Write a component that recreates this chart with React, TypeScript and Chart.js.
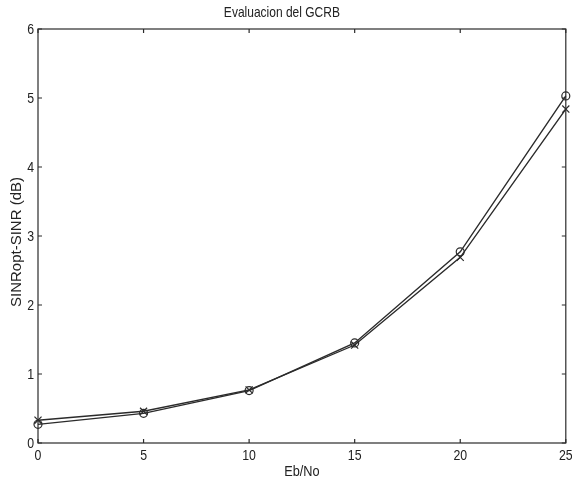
import React, { useEffect, useRef } from "react";
import { Chart, registerables } from "chart.js";

Chart.register(...registerables);

const ebNo = [0, 5, 10, 15, 20, 25];
const seriesCircle = [0.27, 0.43, 0.76, 1.45, 2.77, 5.03];
const seriesCross = [0.33, 0.46, 0.77, 1.42, 2.69, 4.84];
const xTicks = [0, 5, 10, 15, 20, 25];
const yTicks = [0, 1, 2, 3, 4, 5, 6];
const titleText = "Evaluacion del GCRB";
const xLabel = "Eb/No";
const yLabel = "SINRopt-SINR (dB)";

const INK = "#2b2b2b";
const FONT = "'Liberation Sans', Arial, Helvetica, sans-serif";

const framePlugin = {
  id: "matlabFrame",
  afterDraw(chart: any) {
    const { ctx, chartArea } = chart;
    const xs = chart.scales.x;
    const ys = chart.scales.y;
    const { left, right, top, bottom } = chartArea;
    ctx.save();
    ctx.strokeStyle = INK;
    ctx.lineWidth = 1.2;
    ctx.strokeRect(left, top, right - left, bottom - top);
    // inward ticks
    const tl = 4;
    ctx.beginPath();
    xTicks.forEach((v) => {
      const px = xs.getPixelForValue(v);
      ctx.moveTo(px, bottom);
      ctx.lineTo(px, bottom - tl);
      ctx.moveTo(px, top);
      ctx.lineTo(px, top + tl);
    });
    yTicks.forEach((v) => {
      const py = ys.getPixelForValue(v);
      ctx.moveTo(left, py);
      ctx.lineTo(left + tl, py);
      ctx.moveTo(right, py);
      ctx.lineTo(right - tl, py);
    });
    ctx.stroke();

    ctx.fillStyle = "#222";
    const drawScaled = (text: string, x: number, y: number, size: number, sx: number, align: CanvasTextAlign) => {
      ctx.save();
      ctx.translate(x, y);
      ctx.scale(sx, 1);
      ctx.font = `${size}px ${FONT}`;
      ctx.textAlign = align;
      ctx.textBaseline = "middle";
      ctx.fillText(text, 0, 0);
      ctx.restore();
    };
    xTicks.forEach((v) => {
      drawScaled(String(v), xs.getPixelForValue(v), bottom + 13, 14, 0.88, "center");
    });
    yTicks.forEach((v) => {
      drawScaled(String(v), left - 4, ys.getPixelForValue(v) + 1, 14, 0.88, "right");
    });
    // title
    drawScaled(titleText, (left + right) / 2 - 20, 13, 15, 0.8, "center");
    // x label
    drawScaled(xLabel, (left + right) / 2, bottom + 29, 15, 0.85, "center");
    // y label
    ctx.save();
    ctx.translate(17, (top + bottom) / 2 + 6);
    ctx.rotate(-Math.PI / 2);
    ctx.font = `15px ${FONT}`;
    ctx.textAlign = "center";
    ctx.textBaseline = "middle";
    ctx.fillText(yLabel, 0, 0);
    ctx.restore();
    ctx.restore();
  },
};

export default function App() {
  const ref = useRef<HTMLCanvasElement | null>(null);
  useEffect(() => {
    const prevMargin = document.body.style.margin;
    document.body.style.margin = "0";
    const chart = new Chart(ref.current as HTMLCanvasElement, {
      type: "line",
      data: {
        datasets: [
          {
            label: "o",
            data: ebNo.map((x, i) => ({ x, y: seriesCircle[i] })),
            borderColor: INK,
            backgroundColor: "rgba(0,0,0,0)",
            borderWidth: 1.4,
            pointStyle: "circle",
            pointRadius: 4,
            pointBorderWidth: 1.2,
            pointBorderColor: INK,
            pointBackgroundColor: "rgba(0,0,0,0)",
            tension: 0,
            clip: false as any,
          },
          {
            label: "x",
            data: ebNo.map((x, i) => ({ x, y: seriesCross[i] })),
            borderColor: INK,
            backgroundColor: "rgba(0,0,0,0)",
            borderWidth: 1.4,
            pointStyle: "crossRot",
            pointRadius: 5,
            pointBorderWidth: 1.2,
            pointBorderColor: INK,
            tension: 0,
            clip: false as any,
          },
        ],
      },
      options: {
        animation: false,
        responsive: false,
        maintainAspectRatio: false,
        layout: { padding: { left: 38, right: 6, top: 29, bottom: 36 } },
        plugins: { legend: { display: false }, title: { display: false }, tooltip: { enabled: false } },
        scales: {
          x: { type: "linear", min: 0, max: 25, display: false },
          y: { type: "linear", min: 0, max: 6, display: false },
        },
      },
      plugins: [framePlugin],
    });
    return () => {
      chart.destroy();
      document.body.style.margin = prevMargin;
    };
  }, []);
  return (
    <div style={{ position: "absolute", left: 0, top: 0, width: 572, height: 479, background: "#fff" }}>
      <canvas ref={ref} width={572} height={479} style={{ display: "block" }} />
    </div>
  );
}
